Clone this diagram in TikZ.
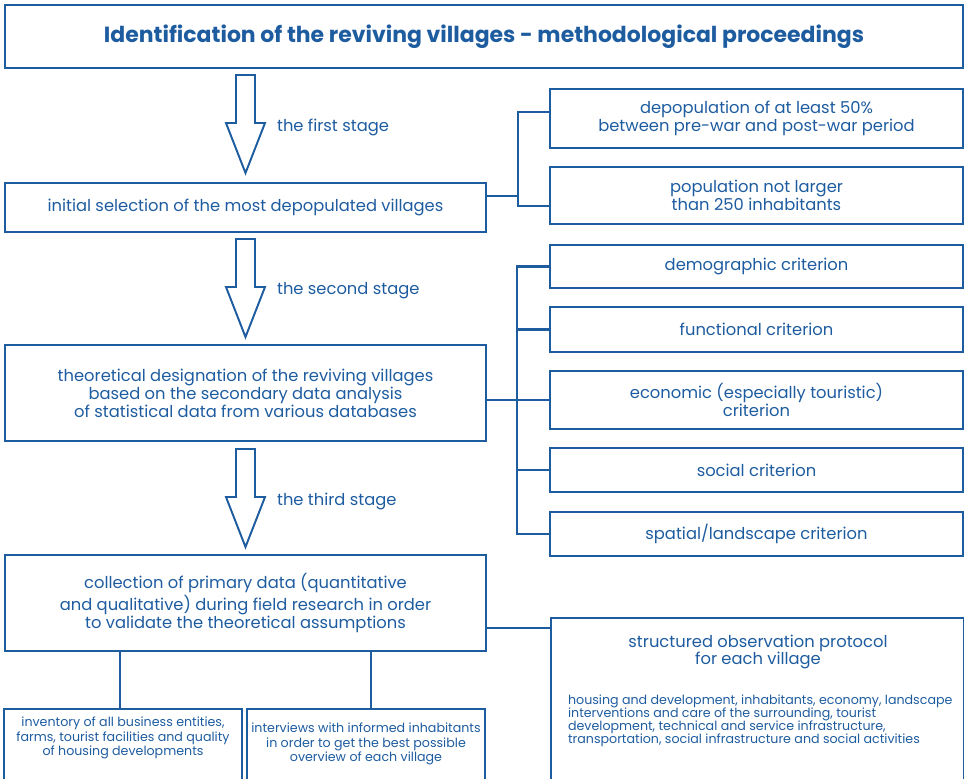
\documentclass[tikz,border=0pt]{standalone}
\usepackage{fontspec}
\setmainfont{Poppins}
\definecolor{vblue}{RGB}{30,92,160}
\newcommand{\tightlines}{\lineskiplimit -10pt\relax}

\begin{document}
\begin{tikzpicture}[x=0.02cm, y=-0.02cm, vblue, line width=1.2pt,
  box/.style={draw, align=center, inner sep=0pt, font=\fontsize{9.3}{10.2}\selectfont},
  rbox/.style={box, minimum width=8.26cm},
  lbox/.style={box, minimum width=9.62cm},
  sbox/.style={draw, minimum width=4.76cm, minimum height=1.6cm, anchor=north},
  small/.style={align=center, inner sep=0pt, font=\fontsize{7.2}{8.2}\selectfont},
  stage/.style={anchor=west, inner sep=0pt, font=\fontsize{9.3}{10.2}\selectfont},
  stagearrow/.style={line width=1.1pt, line join=miter}]
\useasboundingbox (0,0) rectangle (964,778);

\node[box, minimum width=19.16cm, minimum height=1.26cm,
  font=\fontsize{12.5}{14}\selectfont\bfseries] (title) at (484,36.5)
  {Identification of the reviving villages - methodological proceedings};

% left column
\node[lbox, minimum height=0.98cm] (init) at (245.5,207.5)
  {initial selection of the most depopulated villages};
\node[lbox, minimum height=1.92cm] (theo) at (245.5,393)
  {theoretical designation of the reviving villages\\based on the secondary data analysis\\of statistical data from various databases};
\node[lbox, minimum height=1.92cm] (coll) at (245.5,603)
  {collection of primary data (quantitative\\and qualitative) during field research in order\\to validate the theoretical assumptions};

% stages
\foreach \y/\n/\t in {75/st1/the first stage, 239/st2/the second stage, 449/st3/the third stage} {
  \draw[stagearrow] (236,\y) -- (255,\y) -- (255,\y+48) -- (265,\y+48) -- (245.5,\y+98)
    -- (226,\y+48) -- (236,\y+48) -- cycle;
  \node[stage] (\n) at (276,\y+52) {\t};
}

% right column
\node[rbox, minimum height=1.18cm] (dep) at (756.5,118.5)
  {depopulation of at least 50\%\\between pre-war and post-war period};
\node[rbox, minimum height=1.14cm] (pop) at (756.5,195.5)
  {population not larger\\than 250 inhabitants};
\node[rbox, minimum height=0.86cm] (demo) at (756.5,266.5) {demographic criterion};
\node[rbox, minimum height=0.90cm] (func) at (756.5,329.5) {functional criterion};
\node[rbox, minimum height=1.16cm] (econ) at (756.5,400) {economic (especially touristic)\\criterion};
\node[rbox, minimum height=0.88cm] (soc) at (756.5,470) {social criterion};
\node[rbox, minimum height=0.88cm] (spat) at (756.5,534) {spatial/landscape criterion};

\node[draw, minimum width=8.26cm, minimum height=3.4cm, anchor=north west] (obs) at (550,617) {};
\node[box, draw=none] (obshead) at (758,652) {structured observation protocol\\for each village};
\node[small, align=left, anchor=west,
  font=\fontsize{7.2}{7.4}\selectfont\tightlines] (obsbody) at (567,721)
  {housing and development, inhabitants, economy, landscape\\interventions and care of the surrounding, tourist\\development, technical and service infrastructure,\\transportation, social infrastructure and social activities};

% bottom
\node[sbox] (invA) at (123,708) {};
\node[sbox] (invB) at (366,708) {};
\node[small] (invAtext) at (123,738)
  {inventory of all business entities,\\farms, tourist facilities and quality\\of housing developments};
\node[small] (invBtext) at (366,744)
  {interviews with informed inhabitants\\in order to get the best possible\\overview of each village};

% connectors
\coordinate (j1) at (518,196);
\draw (init.east |- j1) -- (j1);
\draw (dep.west |- 0,112) -| (j1) |- (pop.west |- 0,206);

\coordinate (j2) at (517,400);
\draw (theo.east |- j2) -- (econ.west);
\draw (demo.west) -| (j2) |- (spat.west);
\foreach \n in {func,soc}
  \draw (\n.west) -- (\n.west -| j2);

\draw (coll.east |- 0,628) -- (obs.west |- 0,628);
\draw (coll.south -| 120,0) -- (invA.north -| 120,0);
\draw (coll.south -| 371,0) -- (invB.north -| 371,0);
\end{tikzpicture}
\end{document}
